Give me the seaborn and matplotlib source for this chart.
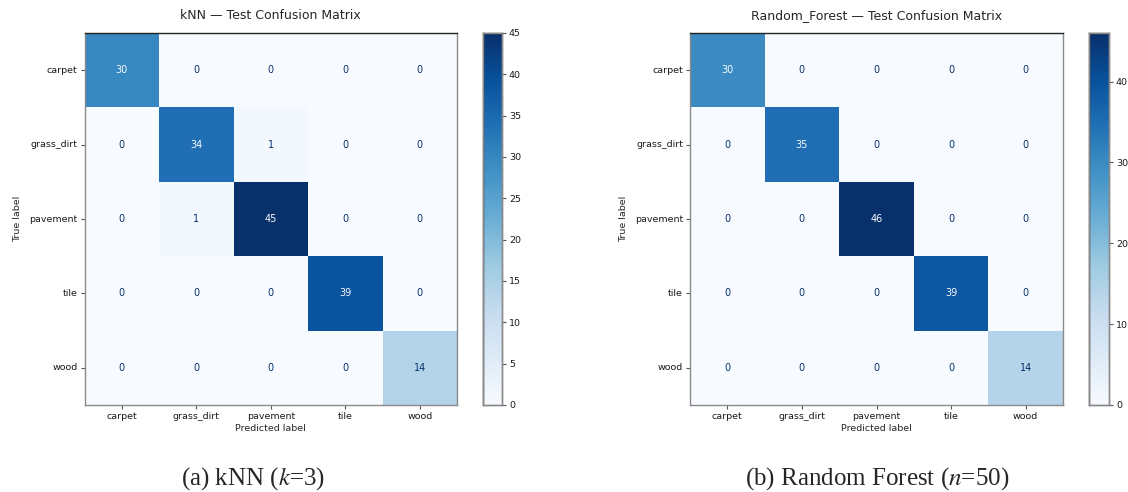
import numpy as np
import pandas as pd
import matplotlib
matplotlib.use("Agg")
import matplotlib.pyplot as plt
import seaborn as sns

classes = ["carpet", "grass_dirt", "pavement", "tile", "wood"]

knn_counts = [
    [30, 0, 0, 0, 0],
    [0, 34, 1, 0, 0],
    [0, 1, 45, 0, 0],
    [0, 0, 0, 39, 0],
    [0, 0, 0, 0, 14],
]

rf_counts = [
    [30, 0, 0, 0, 0],
    [0, 35, 0, 0, 0],
    [0, 0, 46, 0, 0],
    [0, 0, 0, 39, 0],
    [0, 0, 0, 0, 14],
]

titles = ["kNN — Test Confusion Matrix", "Random_Forest — Test Confusion Matrix"]
captions = ["(a) kNN ($k$=3)", "(b) Random Forest ($n$=50)"]

sns.set_style("white")
plt.rcParams["font.family"] = ["DejaVu Sans"]
plt.rcParams["mathtext.fontset"] = "stix"

W, H = 1128, 492
fig = plt.figure(figsize=(W / 100, H / 100), dpi=100)


def box(x0, y0, x1, y1):
    return [x0 / W, 1 - y1 / H, (x1 - x0) / W, (y1 - y0) / H]


panels = [
    dict(hm=box(84.5, 33, 457, 405), cb=box(483, 33, 502, 405), cap_x=253),
    dict(hm=box(690, 33, 1063, 405), cb=box(1089, 33, 1109, 405), cap_x=877),
]

cmap = plt.get_cmap("Blues")

for counts, title, caption, pos in zip([knn_counts, rf_counts], titles, captions, panels):
    df = pd.DataFrame(counts, index=classes, columns=classes)
    vals = df.values
    vmin, vmax = vals.min(), vals.max()
    ax = fig.add_axes(pos["hm"])
    cax = fig.add_axes(pos["cb"])
    sns.heatmap(df, ax=ax, cbar_ax=cax, cmap=cmap, vmin=vmin, vmax=vmax,
                annot=True, fmt="d", annot_kws={"fontsize": 7}, square=False,
                linewidths=0)
    # text colour flips to the light end of the map on dark cells
    thresh = (vmax + vmin) / 2.0
    for t, v in zip(ax.texts, vals.ravel()):
        t.set_color(cmap(0.0) if v > thresh else cmap(1.0))

    ax.set_title(title, fontsize=9, pad=10)
    ax.set_xlabel("Predicted label", fontsize=6.8, labelpad=2)
    ax.set_ylabel("True label", fontsize=6.8, labelpad=5)
    ax.tick_params(axis="both", which="both", labelsize=6.8, length=3,
                   width=0.8, color="#555555", labelcolor="#1a1a1a",
                   left=True, bottom=True, pad=2)
    plt.setp(ax.get_yticklabels(), rotation=0)
    plt.setp(ax.get_xticklabels(), rotation=0)
    for side, sp in ax.spines.items():
        sp.set_visible(True)
        sp.set_linewidth(1.0)
        sp.set_color("#222222" if side == "top" else "#8a8a8a")

    cax.tick_params(labelsize=6.8, length=3, width=0.8, color="#555555",
                    labelcolor="#1a1a1a", pad=2)
    cax.yaxis.set_ticks_position("right")
    for side, sp in cax.spines.items():
        sp.set_visible(True)
        sp.set_linewidth(1.0)
        sp.set_color("#222222" if side in ("top", "left") else "#8a8a8a")

    fig.text(pos["cap_x"] / W, 1 - 479 / H, caption, ha="center", va="center",
             fontsize=18, family="Liberation Serif")

fig.savefig("out.png", dpi=100)
